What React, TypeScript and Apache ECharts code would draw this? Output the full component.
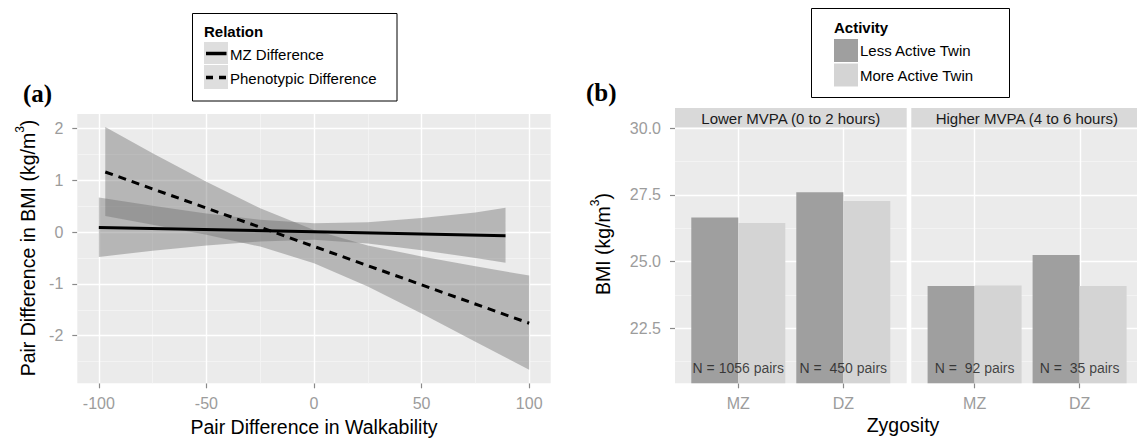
import React, { useEffect, useRef } from "react";
import * as echarts from "echarts";

// ---------- Panel (a) data ----------
const walkTicks = [-100, -50, 0, 50, 100];
const walkMinor = [-75, -25, 25, 75];
const bmiDiffTicks = [-2, -1, 0, 1, 2];
const bmiDiffMinor = [-2.5, -1.5, -0.5, 0.5, 1.5];

const relationNames = ["MZ Difference", "Phenotypic Difference"];

// MZ difference: fitted line and confidence band
const mzLine = [
  [-100, 0.09],
  [89, -0.07],
];
const mzBandX = [-100, -75, -50, -25, 0, 25, 50, 75, 89];
const mzBandUpper = [0.67, 0.51, 0.36, 0.24, 0.17, 0.19, 0.27, 0.38, 0.47];
const mzBandLower = [-0.48, -0.36, -0.26, -0.18, -0.15, -0.22, -0.35, -0.5, -0.59];

// Phenotypic difference: fitted line and confidence band
const phLine = [
  [-97, 1.16],
  [100, -1.76],
];
const phBandX = [-97, -75, -50, -25, 0, 25, 50, 75, 100];
const phBandUpper = [2.03, 1.52, 0.97, 0.46, 0.04, -0.26, -0.47, -0.66, -0.84];
const phBandLower = [0.31, 0.14, -0.05, -0.28, -0.6, -1.05, -1.57, -2.12, -2.66];

// ---------- Panel (b) data ----------
const zygosity = ["MZ", "DZ"];
const facets = ["Lower MVPA (0 to 2 hours)", "Higher MVPA (4 to 6 hours)"];
const activityNames = ["Less Active Twin", "More Active Twin"];
const lessActiveLower = [26.66, 27.6];
const moreActiveLower = [26.45, 27.27];
const lessActiveHigher = [24.09, 25.25];
const moreActiveHigher = [24.11, 24.09];
const pairLabelsLower = ["N = 1056 pairs", "N =  450 pairs"];
const pairLabelsHigher = ["N =  92 pairs", "N =  35 pairs"];
const pairLabelY = 21;
const bmiTicks = [22.5, 25, 27.5, 30];
const bmiMinor = [21.25, 23.75, 26.25, 28.75];
const zygPos = [1, 2];

// ---------- Styles ----------
const PANEL_BG = "#EBEBEB";
const MINOR = "#F3F3F3";
const TICK_TXT = "#9C9C9C";
const TICK_LINE = "#8A8A8A";
const BAND = "rgba(110,110,110,0.42)";
const LESS = "#9F9F9F";
const MORE = "#D4D4D4";
const SANS = "Liberation Sans, Arial, sans-serif";
const SERIF = "Liberation Serif, Times New Roman, serif";

function bandSeries(name: string, xs: number[], up: number[], lo: number[]) {
  return {
    type: "custom",
    name,
    xAxisIndex: 0,
    yAxisIndex: 0,
    silent: true,
    z: 3,
    data: [0],
    renderItem: (_p: any, api: any) => {
      const pts: number[][] = [];
      for (let i = 0; i < xs.length; i++) pts.push(api.coord([xs[i], up[i]]));
      for (let i = xs.length - 1; i >= 0; i--) pts.push(api.coord([xs[i], lo[i]]));
      return { type: "polygon", shape: { points: pts }, style: { fill: BAND, stroke: "none" } };
    },
  };
}

// grid lines drawn as markLines on an empty helper series (under the data marks)
function gridLines(xi: number, yi: number, xs: number[], ys: number[], color: string, width: number) {
  return {
    type: "line",
    xAxisIndex: xi,
    yAxisIndex: yi,
    data: [],
    silent: true,
    z: 1,
    markLine: {
      silent: true,
      z: 1,
      symbol: ["none", "none"],
      label: { show: false },
      animation: false,
      lineStyle: { color, width, type: "solid" },
      emphasis: { disabled: true },
      data: [...xs.map((v) => ({ xAxis: v })), ...ys.map((v) => ({ yAxis: v }))],
    },
  };
}

function valueAxis(grid: number, min: number, max: number, values: number[], opts: any = {}) {
  return {
    type: "value",
    gridIndex: grid,
    min,
    max,
    show: opts.show !== false,
    position: opts.position,
    axisLine: { show: false, onZero: false },
    axisTick: {
      show: !!opts.label,
      customValues: values,
      length: 5,
      lineStyle: { color: TICK_LINE, width: 1.2 },
    },
    axisLabel: {
      show: !!opts.label,
      customValues: values,
      color: TICK_TXT,
      fontSize: 16,
      fontFamily: SANS,
      margin: opts.margin ?? 12,
      formatter: opts.formatter,
    },
    splitLine: { show: false },
  };
}

export default function App() {
  const ref = useRef<HTMLDivElement>(null);

  useEffect(() => {
    if (!ref.current) return;
    const chart = echarts.init(ref.current, undefined, { renderer: "svg" });

    const plotTop = 127.5;
    const plotH = 383.3 - plotTop;
    const bMin = 20.44;
    const bMax = 30.03;

    const grid = [
      { left: 77.3, top: 114, width: 473.4, height: 269.3 },
      { left: 675, top: plotTop, width: 231.7, height: plotH },
      { left: 911.3, top: plotTop, width: 231.7, height: plotH },
      { left: 685.8, top: plotTop, width: 210, height: plotH },
      { left: 922.1, top: plotTop, width: 210, height: plotH },
    ].map((g, i) => ({
      ...g,
      show: i < 3,
      backgroundColor: PANEL_BG,
      borderWidth: 0,
      containLabel: false,
      outerBoundsMode: "none",
    }));

    const catAxis = (g: number) => ({
      type: "category",
      gridIndex: g,
      data: zygosity,
      axisLine: { show: false, onZero: false },
      axisTick: { show: true, alignWithLabel: true, length: 5, lineStyle: { color: TICK_LINE, width: 1.2 } },
      axisLabel: { color: TICK_TXT, fontSize: 16, fontFamily: SANS, margin: 12 },
      splitLine: { show: false },
    });

    const xAxis = [
      valueAxis(0, -110, 110, walkTicks, { label: true, position: "bottom", margin: 12 }),
      valueAxis(1, 0.4, 2.6, zygPos, { show: false }),
      valueAxis(2, 0.4, 2.6, zygPos, { show: false }),
      catAxis(3),
      catAxis(4),
    ];

    const fmt1 = (v: number) => v.toFixed(1);
    const yAxis = [
      valueAxis(0, -2.92, 2.28, bmiDiffTicks, { label: true, position: "left", margin: 14 }),
      valueAxis(1, bMin, bMax, bmiTicks, { label: true, position: "left", margin: 14, formatter: fmt1 }),
      valueAxis(2, bMin, bMax, bmiTicks, { show: false }),
      { type: "value", gridIndex: 3, min: bMin, max: bMax, show: false },
      { type: "value", gridIndex: 4, min: bMin, max: bMax, show: false },
    ];

    const barSeries = (name: string, data: number[], color: string, axis: number) => ({
      type: "bar",
      name,
      xAxisIndex: axis,
      yAxisIndex: axis,
      data,
      barWidth: 47,
      barGap: "0%",
      z: 3,
      itemStyle: { color },
      silent: true,
    });

    const labelSeries = (labels: string[], axis: number) => ({
      type: "scatter",
      xAxisIndex: axis,
      yAxisIndex: axis,
      symbolSize: 0,
      silent: true,
      z: 6,
      data: zygosity.map((_, i) => [i, pairLabelY]),
      label: {
        show: true,
        position: "inside",
        formatter: (p: any) => labels[p.dataIndex],
        color: "#1A1A1A",
        fontSize: 14,
        fontFamily: SANS,
      },
    });

    const series: any[] = [
      // panel (a) grid lines
      gridLines(0, 0, walkMinor, bmiDiffMinor, MINOR, 1),
      gridLines(0, 0, walkTicks, bmiDiffTicks, "#FFFFFF", 1.4),
      // panel (b) grid lines
      gridLines(1, 1, [], bmiMinor, MINOR, 1),
      gridLines(1, 1, zygPos, bmiTicks, "#FFFFFF", 1.4),
      gridLines(2, 2, [], bmiMinor, MINOR, 1),
      gridLines(2, 2, zygPos, bmiTicks, "#FFFFFF", 1.4),
      bandSeries("mzBand", mzBandX, mzBandUpper, mzBandLower),
      {
        type: "line",
        name: relationNames[0],
        xAxisIndex: 0,
        yAxisIndex: 0,
        data: mzLine,
        showSymbol: false,
        silent: true,
        z: 3,
        lineStyle: { color: "#000", width: 3 },
      },
      bandSeries("phBand", phBandX, phBandUpper, phBandLower),
      {
        type: "line",
        name: relationNames[1],
        xAxisIndex: 0,
        yAxisIndex: 0,
        data: phLine,
        showSymbol: false,
        silent: true,
        z: 3,
        lineStyle: { color: "#000", width: 3, type: [8, 6] },
      },
      barSeries(activityNames[0], lessActiveLower, LESS, 3),
      barSeries(activityNames[1], moreActiveLower, MORE, 3),
      barSeries(activityNames[0], lessActiveHigher, LESS, 4),
      barSeries(activityNames[1], moreActiveHigher, MORE, 4),
      labelSeries(pairLabelsLower, 3),
      labelSeries(pairLabelsHigher, 4),
    ];

    const legendText = (text: string, x: number, y: number, bold = false) => ({
      type: "text",
      x,
      y,
      style: {
        text,
        fontSize: 15,
        fontWeight: bold ? "bold" : "normal",
        fontFamily: SANS,
        fill: "#000",
        verticalAlign: "middle",
        align: "left",
      },
    });

    const supRich = {
      t: { fontSize: 19.5, fontFamily: SANS, fill: "#000", lineHeight: 24, verticalAlign: "bottom" },
      s: { fontSize: 12, fontFamily: SANS, fill: "#000", lineHeight: 24, verticalAlign: "top" },
    };

    const graphic: any[] = [
      // panel labels
      { type: "text", x: 23, y: 93, style: { text: "(a)", font: `bold 25px ${SERIF}`, fill: "#000", verticalAlign: "middle" } },
      { type: "text", x: 586, y: 92, style: { text: "(b)", font: `bold 25px ${SERIF}`, fill: "#000", verticalAlign: "middle" } },
      // axis titles
      {
        type: "text",
        x: 26,
        y: 248,
        rotation: Math.PI / 2,
        style: { text: "{t|Pair Difference in BMI (kg/m}{s|3}{t|)}", align: "center", verticalAlign: "middle", rich: supRich },
      },
      {
        type: "text",
        x: 314,
        y: 427,
        style: { text: "Pair Difference in Walkability", fontSize: 19.5, fontFamily: SANS, fill: "#000", align: "center", verticalAlign: "middle" },
      },
      {
        type: "text",
        x: 601,
        y: 244,
        rotation: Math.PI / 2,
        style: { text: "{t|BMI (kg/m}{s|3}{t|)}", align: "center", verticalAlign: "middle", rich: supRich },
      },
      {
        type: "text",
        x: 903,
        y: 425,
        style: { text: "Zygosity", fontSize: 19.5, fontFamily: SANS, fill: "#000", align: "center", verticalAlign: "middle" },
      },
      // facet strips
      { type: "rect", shape: { x: 675, y: 108, width: 231.7, height: 19.5 }, style: { fill: "#D9D9D9" }, silent: true },
      { type: "rect", shape: { x: 911.3, y: 108, width: 231.7, height: 19.5 }, style: { fill: "#D9D9D9" }, silent: true },
      {
        type: "text",
        x: 790.8,
        y: 118,
        style: { text: facets[0], fontSize: 15, fontFamily: SANS, fill: "#1A1A1A", align: "center", verticalAlign: "middle" },
      },
      {
        type: "text",
        x: 1026.8,
        y: 118,
        style: { text: facets[1], fontSize: 15, fontFamily: SANS, fill: "#1A1A1A", align: "center", verticalAlign: "middle" },
      },
      // legend (a)
      { type: "rect", shape: { x: 192.5, y: 13.5, width: 204.5, height: 87.5 }, style: { fill: "#fff", stroke: "#000", lineWidth: 1 } },
      legendText("Relation", 204, 31, true),
      { type: "rect", shape: { x: 204, y: 42, width: 24, height: 22 }, style: { fill: "#DEDEDE" } },
      { type: "rect", shape: { x: 204, y: 65, width: 24, height: 24 }, style: { fill: "#DEDEDE" } },
      { type: "line", shape: { x1: 206, y1: 53.5, x2: 226.5, y2: 53.5 }, style: { stroke: "#000", lineWidth: 3.5 } },
      { type: "line", shape: { x1: 206, y1: 77.5, x2: 226.5, y2: 77.5 }, style: { stroke: "#000", lineWidth: 3.5, lineDash: [7, 6] } },
      legendText(relationNames[0], 230, 54),
      legendText(relationNames[1], 230, 78),
      // legend (b)
      { type: "rect", shape: { x: 811.5, y: 8.5, width: 198, height: 89 }, style: { fill: "#fff", stroke: "#000", lineWidth: 1 } },
      legendText("Activity", 834, 27.5, true),
      { type: "rect", shape: { x: 834, y: 39, width: 24, height: 23 }, style: { fill: LESS } },
      { type: "rect", shape: { x: 834, y: 63.5, width: 24, height: 23 }, style: { fill: MORE } },
      legendText(activityNames[0], 860, 50.5),
      legendText(activityNames[1], 860, 75),
    ];

    chart.setOption({
      animation: false,
      backgroundColor: "#FFFFFF",
      textStyle: { fontFamily: SANS },
      grid,
      xAxis,
      yAxis,
      series,
      graphic,
    });

    return () => chart.dispose();
  }, []);

  return (
    <div
      ref={ref}
      style={{ position: "fixed", left: 0, top: 0, width: 1137, height: 439, background: "#fff" }}
    />
  );
}
